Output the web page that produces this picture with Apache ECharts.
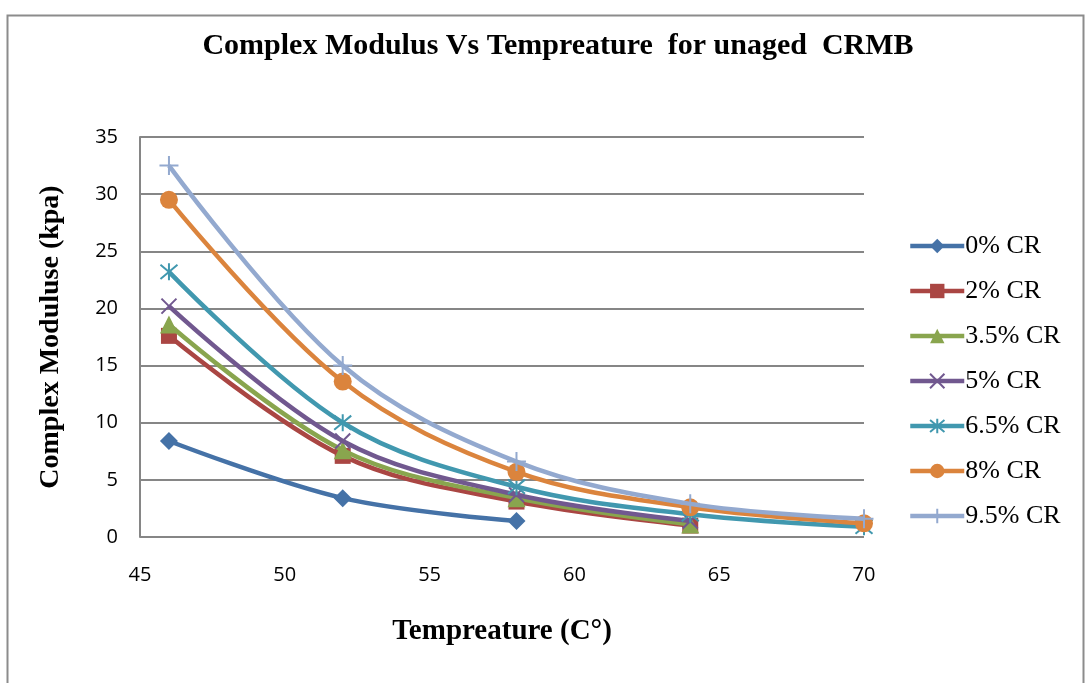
<!DOCTYPE html>
<html>
<head>
<meta charset="utf-8">
<script src="https://cdn.jsdelivr.net/npm/echarts@6/dist/echarts.min.js"></script>
<style>
  html, body { margin: 0; padding: 0; background: #fff; }
  #chart { width: 1091px; height: 683px; }
</style>
</head>
<body>
<div id="chart"></div>
<script>
// Test temperatures (°C)
const temps = [46, 52, 58, 64, 70];

// Complex modulus (kPa) per crumb-rubber content; shorter lists stop early
const cr0  = [8.4, 3.4, 1.4];
const cr2  = [17.6, 7.1, 3.1, 1.0];
const cr35 = [18.6, 7.6, 3.4, 1.1];
const cr5  = [20.2, 8.4, 3.7, 1.4];
const cr65 = [23.2, 10.0, 4.4, 2.0, 0.9];
const cr8  = [29.5, 13.6, 5.7, 2.6, 1.2];
const cr95 = [32.5, 15.0, 6.6, 2.9, 1.6];

const seriesNames = ['0% CR', '2% CR', '3.5% CR', '5% CR', '6.5% CR', '8% CR', '9.5% CR'];
const seriesValues = [cr0, cr2, cr35, cr5, cr65, cr8, cr95];
const colors = ['#4572A7', '#AA4643', '#89A54E', '#71588F', '#4198AF', '#DB843D', '#93A9CF'];

// Marker shapes
const xMark = 'path://M0 0 L10 10 M10 0 L0 10';
const starMark = 'path://M0 0 L10 10 M10 0 L0 10 M5 -1 L5 11';
const plusMark = 'path://M5 0 L5 10 M0 5 L10 5';
const symbols = ['diamond', 'rect', 'triangle', xMark, starMark, 'circle', plusMark];
const symbolSizes = [18, 16, 18, 15, 17, 18, 19];
const stroked = [false, false, false, true, true, false, true];

const series = seriesValues.map((vals, i) => ({
  name: seriesNames[i],
  type: 'line',
  smooth: 0.35,
  data: vals.map((v, j) => [temps[j], v]),
  symbol: symbols[i],
  symbolSize: symbolSizes[i],
  showAllSymbol: true,
  lineStyle: { color: colors[i], width: 4.5 },
  itemStyle: stroked[i]
    ? { color: 'rgba(0,0,0,0)', borderColor: colors[i], borderWidth: 2 }
    : { color: colors[i], borderWidth: 0 },
  emphasis: { disabled: true },
  z: 2 + i
}));

const legendData = seriesNames.map((n) => ({
  name: n,
  lineStyle: { width: 4.5 }
}));

const chart = echarts.init(document.getElementById('chart'));
chart.setOption({
  backgroundColor: '#ffffff',
  animation: false,
  color: colors,
  graphic: [{
    type: 'rect',
    shape: { x: 7.5, y: 15.5, width: 1076, height: 700 },
    style: { fill: 'none', stroke: '#8c8c8c', lineWidth: 2 },
    silent: true
  }],
  title: {
    text: 'Complex Modulus Vs Tempreature  for unaged  CRMB',
    left: 553,
    textAlign: 'center',
    top: 26,
    textStyle: {
      fontFamily: 'Liberation Serif',
      fontWeight: 'bold',
      fontSize: 30,
      color: '#000'
    }
  },
  legend: {
    orient: 'vertical',
    left: 903,
    top: 228,
    itemWidth: 54,
    itemHeight: 18,
    itemGap: 19,
    data: legendData,
    textStyle: {
      fontFamily: 'Liberation Serif',
      fontSize: 26,
      lineHeight: 26,
      color: '#000',
      padding: [0, 0, 0, -4]
    }
  },
  grid: { left: 140, right: 227, top: 137, bottom: 146 },
  xAxis: {
    type: 'value',
    min: 45,
    max: 70,
    interval: 5,
    name: 'Tempreature (C°)',
    nameLocation: 'middle',
    nameGap: 80,
    nameTextStyle: {
      fontFamily: 'Liberation Serif',
      fontWeight: 'bold',
      fontSize: 29,
      color: '#000'
    },
    axisLine: { show: false },
    axisTick: { show: false },
    splitLine: { show: false },
    axisLabel: {
      fontFamily: 'Open Sans',
      fontSize: 20,
      color: '#000',
      margin: 28
    }
  },
  yAxis: {
    type: 'value',
    min: 0,
    max: 35,
    interval: 5,
    name: 'Complex Moduluse (kpa)',
    nameLocation: 'middle',
    nameGap: 75,
    nameTextStyle: {
      fontFamily: 'Liberation Serif',
      fontWeight: 'bold',
      fontSize: 28,
      color: '#000'
    },
    axisLine: { show: true, lineStyle: { color: '#868686', width: 2 } },
    axisTick: { show: false },
    splitLine: { show: true, lineStyle: { color: '#868686', width: 2 } },
    axisLabel: {
      fontFamily: 'Open Sans',
      fontSize: 20,
      color: '#000',
      margin: 22
    }
  },
  series: series
});
</script>
</body>
</html>
